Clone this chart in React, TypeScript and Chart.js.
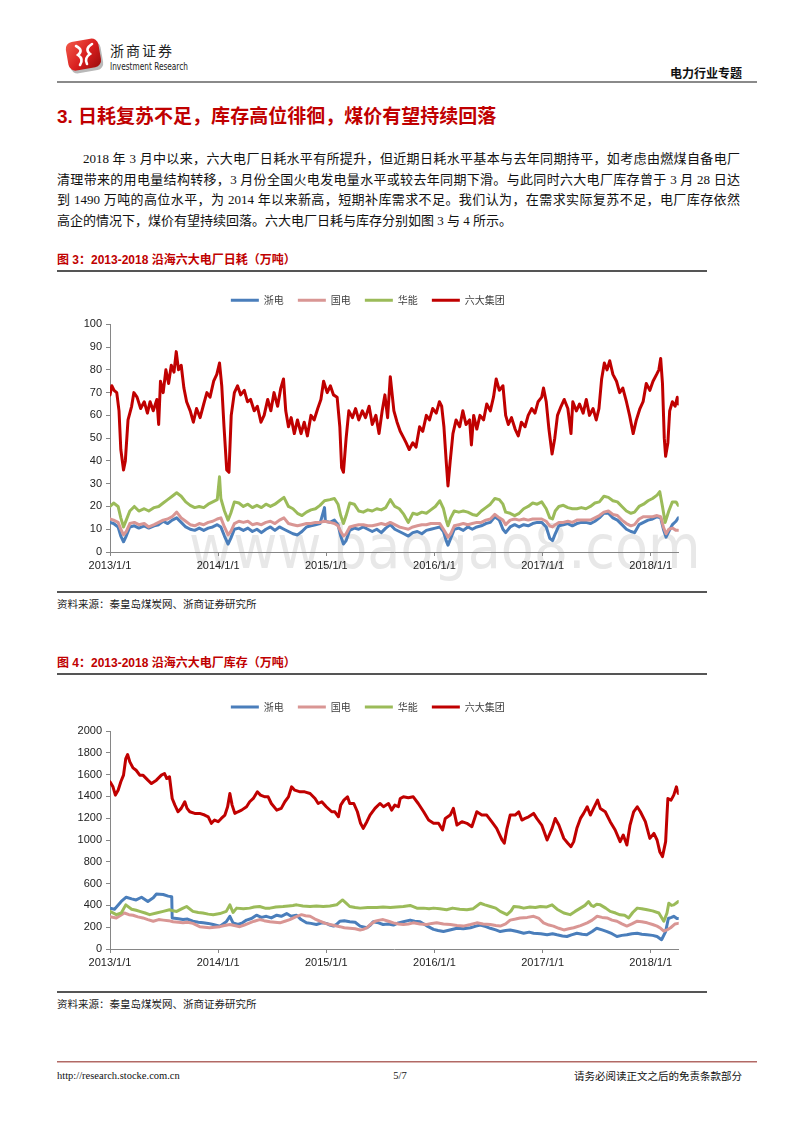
import React, { useEffect, useRef } from 'react';
import { Chart, registerables } from 'chart.js';

Chart.register(...registerables);

// ---------- shared categories ----------
const seriesNames = ['浙电', '国电', '华能', '六大集团'];
const seriesColors = ['#4A7EBB', '#D99694', '#9BBB59', '#C00000'];
// x values are months elapsed since 2013/1/1
const xTickMonths = [0, 12, 24, 36, 48, 60];
const xTickLabels = ['2013/1/1', '2014/1/1', '2015/1/1', '2016/1/1', '2017/1/1', '2018/1/1'];
const xMaxMonth = 63.1;

// ---------- Figure 3: daily consumption (万吨) ----------
const dailyZheDian: [number, number][] = [
  [0, 13], [0.4, 12.5], [0.9, 11], [1.2, 7], [1.5, 4.5], [1.8, 7], [2.2, 11], [2.7, 11.5], [3.2, 10.5], [3.8, 11.5],
  [4.3, 10.5], [4.9, 11.5], [5.4, 12], [5.9, 13.5], [6.4, 12.5], [6.9, 14], [7.4, 15], [7.9, 13], [8.4, 11], [8.9, 10],
  [9.4, 9.5], [9.9, 10.5], [10.4, 9.5], [10.9, 10.5], [11.4, 11], [11.9, 12], [12.3, 11], [12.7, 7], [13.1, 3.5], [13.4, 6],
  [13.8, 10], [14.3, 10.5], [14.8, 9.5], [15.3, 10.5], [15.8, 9], [16.3, 10], [16.8, 8.5], [17.3, 10], [17.8, 11], [18.3, 9.5],
  [18.8, 11], [19.3, 10], [19.8, 9], [20.3, 8], [20.8, 7.5], [21.3, 9], [21.8, 11], [22.3, 11.5], [22.8, 12], [23.3, 12.5],
  [23.8, 19.5], [23.9, 13.5], [24.4, 13], [24.9, 14], [25.3, 12], [25.6, 7], [25.9, 3.5], [26.2, 5], [26.6, 9.5], [27.1, 10.5],
  [27.6, 10], [28.1, 11], [28.6, 10], [29.1, 9], [29.6, 10], [30.1, 8.5], [30.6, 10.5], [31.1, 12], [31.6, 10], [32.1, 9],
  [32.6, 8], [33.1, 7], [33.6, 8.5], [34.1, 9], [34.6, 8], [35.1, 9.5], [35.6, 10], [36.1, 10.5], [36.6, 11], [37.0, 9],
  [37.3, 5], [37.5, 3], [37.8, 6], [38.2, 10], [38.7, 10.5], [39.2, 9.5], [39.7, 11], [40.2, 10], [40.7, 11], [41.2, 11.5],
  [41.7, 12.5], [42.2, 13], [42.7, 15.5], [43.2, 14], [43.6, 10], [43.9, 8.5], [44.4, 11], [44.9, 12], [45.4, 11], [45.9, 12],
  [46.4, 11.5], [46.9, 12.5], [47.4, 13], [47.9, 13], [48.4, 11], [48.8, 6], [49.1, 5], [49.4, 8], [49.8, 11.5], [50.3, 12],
  [50.8, 12.5], [51.3, 11.5], [51.8, 12.5], [52.3, 13], [52.8, 13], [53.3, 12.5], [53.8, 13.5], [54.3, 15], [54.8, 17], [55.3, 17],
  [55.8, 15], [56.3, 14], [56.8, 12], [57.3, 10], [57.8, 9], [58.2, 8.5], [58.7, 12], [59.2, 13], [59.7, 14], [60.2, 14.5],
  [60.7, 15.5], [61.1, 15], [61.4, 10], [61.7, 6.5], [62.0, 9], [62.4, 12], [62.8, 13.5], [63.05, 15],
];
const dailyGuoDian: [number, number][] = [
  [0, 14.5], [0.4, 14], [0.9, 13], [1.2, 10], [1.5, 7.5], [1.8, 9], [2.2, 12.5], [2.7, 13], [3.2, 12], [3.8, 12.5],
  [4.3, 11], [4.9, 12], [5.4, 13], [5.9, 14], [6.4, 14.5], [6.9, 15.5], [7.4, 17.5], [7.9, 15], [8.4, 13.5], [8.9, 12],
  [9.4, 11.5], [9.9, 12.5], [10.4, 12], [10.9, 13], [11.4, 13.5], [11.9, 14.5], [12.3, 15], [12.7, 11], [13.1, 7.5], [13.4, 9],
  [13.8, 12.5], [14.3, 13.5], [14.8, 13], [15.3, 13.5], [15.8, 12], [16.3, 12.5], [16.8, 12], [17.3, 13], [17.8, 13.5], [18.3, 12.5],
  [18.8, 14], [19.3, 15], [19.8, 12.5], [20.3, 12], [20.8, 11.5], [21.3, 12], [21.8, 12.5], [22.3, 12.5], [22.8, 13], [23.3, 13],
  [23.8, 13.5], [24.4, 13], [24.9, 12.5], [25.3, 11.5], [25.6, 9], [25.9, 7], [26.2, 8], [26.6, 11], [27.1, 11.5], [27.6, 12],
  [28.1, 12], [28.6, 11.5], [29.1, 11.5], [29.6, 12], [30.1, 12.5], [30.6, 12], [31.1, 13], [31.6, 12], [32.1, 11], [32.6, 10.5],
  [33.1, 10], [33.6, 11], [34.1, 11.5], [34.6, 12], [35.1, 12], [35.6, 12.5], [36.1, 12.5], [36.6, 12.5], [37.0, 10], [37.3, 8],
  [37.5, 6.5], [37.8, 8], [38.2, 11.5], [38.7, 12], [39.2, 12.5], [39.7, 12], [40.2, 12.5], [40.7, 13], [41.2, 13], [41.7, 14],
  [42.2, 14.5], [42.7, 16.5], [43.2, 15], [43.6, 14], [43.9, 12], [44.4, 14], [44.9, 14.5], [45.4, 14], [45.9, 14.5], [46.4, 14],
  [46.9, 14.5], [47.4, 14.5], [47.9, 14.5], [48.4, 13.5], [48.8, 11.5], [49.1, 11], [49.4, 12], [49.8, 13], [50.3, 13], [50.8, 13.5],
  [51.3, 13], [51.8, 14], [52.3, 14], [52.8, 14], [53.3, 14], [53.8, 15], [54.3, 16], [54.8, 17.5], [55.3, 18], [55.8, 16.5],
  [56.3, 16], [56.8, 14], [57.3, 12.5], [57.8, 11.5], [58.2, 12], [58.7, 14.5], [59.2, 15.5], [59.7, 15.5], [60.2, 15.5], [60.7, 16],
  [61.1, 15.5], [61.4, 11], [61.7, 8], [62.0, 10], [62.4, 10.5], [62.8, 9.5], [63.05, 9.5],
];
const dailyHuaNeng: [number, number][] = [
  [0, 20], [0.4, 21.5], [0.9, 20], [1.2, 15], [1.5, 11], [1.8, 14], [2.2, 18], [2.7, 20], [3.2, 18], [3.8, 19],
  [4.3, 18], [4.9, 19.5], [5.4, 20], [5.9, 21.5], [6.4, 23], [6.9, 24.5], [7.4, 26], [7.9, 24.5], [8.4, 22], [8.9, 20.5],
  [9.4, 19.5], [9.9, 20], [10.4, 19.5], [10.9, 21], [11.4, 22], [11.9, 23], [12.15, 33], [12.3, 23.5], [12.7, 18], [13.1, 14],
  [13.4, 17], [13.8, 22], [14.3, 21.5], [14.8, 20], [15.3, 21], [15.8, 19.5], [16.3, 20.5], [16.8, 19.5], [17.3, 21], [17.8, 20],
  [18.3, 21], [18.8, 22.5], [19.3, 24], [19.8, 20], [20.3, 19], [20.8, 17], [21.3, 16], [21.8, 17.5], [22.3, 18.5], [22.8, 19],
  [23.3, 20.5], [23.8, 22.5], [24.4, 23], [24.9, 23.5], [25.3, 21], [25.6, 16], [25.9, 12.5], [26.2, 16], [26.6, 21.5], [27.1, 21],
  [27.6, 18], [28.1, 17.5], [28.6, 18.5], [29.1, 18], [29.6, 19], [30.1, 18.5], [30.6, 19.5], [31.1, 23], [31.6, 20], [32.1, 19],
  [32.6, 16.5], [33.1, 13], [33.6, 17], [34.1, 16.5], [34.6, 17.5], [35.1, 17], [35.6, 18.5], [36.1, 20], [36.6, 22.5], [37.0, 19],
  [37.3, 14], [37.5, 11.5], [37.8, 15], [38.2, 18], [38.7, 17.5], [39.2, 18], [39.7, 17.5], [40.2, 16.5], [40.7, 16], [41.2, 18],
  [41.7, 19.5], [42.2, 21], [42.7, 23.5], [43.2, 23], [43.6, 21], [43.9, 17.5], [44.4, 17], [44.9, 16], [45.4, 17], [45.9, 19],
  [46.4, 20], [46.9, 21.5], [47.4, 21], [47.9, 22], [48.4, 19], [48.8, 15], [49.1, 14.5], [49.4, 18], [49.8, 20], [50.3, 20.5],
  [50.8, 19.5], [51.3, 19], [51.8, 19], [52.3, 19.5], [52.8, 19], [53.3, 20], [53.8, 21.5], [54.3, 22], [54.8, 24.5], [55.3, 24],
  [55.8, 22.5], [56.3, 22], [56.8, 20], [57.3, 18], [57.8, 17], [58.2, 17.5], [58.7, 20], [59.2, 21], [59.7, 22.5], [60.2, 23.5],
  [60.7, 25], [61.0, 26.5], [61.3, 20], [61.6, 13], [62.0, 18], [62.4, 22], [62.8, 22], [63.05, 20.5],
];
const dailySixGroup: [number, number][] = [
  [0, 69], [0.2, 73], [0.45, 71], [0.75, 70], [1.0, 62], [1.2, 45], [1.5, 36], [1.7, 40], [2.0, 58], [2.4, 64],
  [2.65, 70], [3.0, 68], [3.4, 63], [3.8, 66], [4.15, 61], [4.45, 66], [4.8, 62], [5.2, 67], [5.4, 56], [5.6, 75],
  [5.9, 70], [6.2, 80], [6.5, 74], [6.8, 82], [7.1, 79], [7.35, 88], [7.6, 80], [7.9, 82], [8.2, 72], [8.5, 66],
  [8.9, 62], [9.25, 57], [9.6, 63], [10.0, 59], [10.4, 65], [10.75, 70], [11.1, 68], [11.5, 75], [11.85, 78], [12.15, 83],
  [12.4, 73], [12.65, 55], [12.95, 36], [13.2, 35], [13.45, 60], [13.8, 70], [14.15, 73], [14.5, 69], [14.9, 71], [15.25, 66],
  [15.6, 67], [16.0, 62], [16.35, 64], [16.75, 57], [17.1, 60], [17.5, 67], [17.85, 62], [18.2, 70], [18.6, 64], [18.95, 72],
  [19.25, 76], [19.5, 62], [19.8, 55], [20.1, 59], [20.45, 52], [20.8, 58], [21.2, 52], [21.55, 57], [21.9, 51], [22.3, 60],
  [22.65, 58], [23.05, 63], [23.4, 67], [23.7, 75], [24.1, 70], [24.45, 73], [24.8, 69], [25.2, 68], [25.5, 55], [25.7, 37],
  [25.9, 35], [26.2, 50], [26.5, 62], [26.9, 59], [27.25, 63], [27.6, 58], [28.0, 62], [28.35, 59], [28.75, 64], [29.1, 56],
  [29.5, 60], [29.85, 52], [30.2, 62], [30.5, 69], [30.8, 59], [31.1, 77], [31.5, 62], [31.85, 57], [32.2, 53], [32.6, 50],
  [32.85, 48], [33.2, 45], [33.6, 48], [33.95, 46], [34.35, 55], [34.7, 53], [35.1, 60], [35.45, 58], [35.8, 63], [36.2, 61],
  [36.55, 66], [36.8, 64], [37.05, 55], [37.3, 40], [37.5, 29], [37.75, 40], [38.05, 52], [38.4, 58], [38.8, 55], [39.15, 62],
  [39.5, 56], [39.9, 58], [40.1, 47], [40.35, 60], [40.7, 54], [41.05, 60], [41.45, 58], [41.8, 65], [42.2, 62], [42.55, 68],
  [42.85, 76], [43.2, 71], [43.6, 73], [43.9, 60], [44.2, 56], [44.55, 59], [44.95, 54], [45.3, 51], [45.65, 57], [46.05, 55],
  [46.4, 60], [46.8, 63], [47.15, 61], [47.5, 66], [47.9, 68], [48.1, 72], [48.4, 66], [48.7, 54], [49.05, 43], [49.35, 50],
  [49.65, 60], [50.05, 64], [50.4, 67], [50.8, 63], [51.15, 52], [51.35, 66], [51.75, 62], [52.1, 65], [52.5, 61], [52.85, 67],
  [53.2, 60], [53.6, 63], [53.95, 58], [54.25, 63], [54.55, 76], [54.85, 83], [55.15, 80], [55.45, 84], [55.8, 78], [56.2, 75],
  [56.55, 70], [56.9, 72], [57.3, 66], [57.65, 60], [58.05, 52], [58.4, 58], [58.8, 63], [59.15, 66], [59.5, 74], [59.9, 71],
  [60.25, 75], [60.65, 78], [60.9, 80], [61.1, 85], [61.3, 74], [61.5, 50], [61.65, 42], [61.9, 48], [62.1, 62], [62.4, 66],
  [62.7, 64], [62.95, 68], [63.05, 65],
];
const dailyYMax = 100;
const dailyYStep = 10;

// ---------- Figure 4: stockpile (万吨) ----------
const stockZheDian: [number, number][] = [
  [0, 375], [0.5, 365], [1.25, 436], [1.8, 475], [2.4, 460], [2.9, 450], [3.5, 475], [4.2, 436], [4.8, 470], [5.15, 505],
  [5.9, 500], [6.45, 485], [6.85, 480], [6.9, 285], [7.4, 280], [8.1, 270], [8.6, 275], [9.2, 255], [9.8, 245], [10.35, 240],
  [10.9, 235], [11.45, 225], [12.2, 210], [12.9, 250], [13.3, 300], [13.65, 240], [14.2, 225], [14.7, 240], [15.15, 265], [15.7, 280],
  [16.25, 310], [16.8, 290], [17.35, 300], [17.9, 285], [18.5, 310], [19.0, 300], [19.6, 325], [20.1, 300], [20.7, 310], [21.2, 270],
  [21.8, 240], [22.3, 235], [22.9, 225], [23.5, 240], [24.0, 235], [24.4, 220], [24.8, 210], [25.2, 230], [25.5, 255], [26.0, 260],
  [26.6, 250], [27.2, 245], [27.75, 210], [28.5, 195], [28.9, 220], [29.2, 250], [29.8, 240], [30.3, 225], [30.9, 230], [31.45, 220],
  [32.0, 240], [32.55, 250], [33.3, 265], [33.8, 255], [34.4, 250], [35.1, 215], [35.9, 180], [36.4, 170], [37.0, 160], [37.7, 175],
  [38.5, 190], [39.2, 185], [40.0, 195], [40.6, 210], [41.1, 220], [41.7, 205], [42.2, 190], [42.8, 175], [43.3, 160], [43.9, 170],
  [44.4, 175], [45.2, 160], [45.9, 145], [46.5, 155], [47.0, 145], [47.8, 140], [48.5, 130], [49.1, 140], [49.6, 130], [50.2, 120],
  [50.7, 115], [51.2, 130], [51.8, 145], [52.4, 135], [52.9, 130], [53.5, 160], [54.0, 190], [54.6, 175], [55.15, 160], [55.7, 140],
  [56.25, 115], [56.8, 125], [57.35, 130], [57.9, 140], [58.5, 145], [59.0, 135], [59.6, 130], [60.2, 125], [60.7, 115], [61.2, 85],
  [61.65, 160], [61.95, 280], [62.3, 290], [62.55, 300], [62.9, 280], [63.05, 280],
];
const stockGuoDian: [number, number][] = [
  [0, 295], [0.7, 285], [1.6, 330], [2.1, 315], [2.55, 310], [3.1, 295], [3.65, 285], [4.2, 270], [4.8, 255], [5.4, 270],
  [5.9, 265], [6.5, 260], [7.0, 250], [7.6, 245], [8.1, 240], [8.6, 245], [9.2, 235], [9.95, 205], [10.5, 200], [11.05, 195],
  [11.6, 200], [12.2, 205], [12.7, 215], [13.3, 225], [13.8, 215], [14.4, 205], [14.9, 220], [15.5, 240], [16.0, 255], [16.6, 270],
  [17.1, 260], [17.75, 250], [18.3, 245], [18.85, 240], [19.4, 255], [19.95, 270], [20.6, 295], [21.25, 315], [21.7, 305], [22.2, 300],
  [22.75, 275], [23.3, 255], [23.9, 235], [24.4, 225], [24.9, 215], [25.5, 205], [26.0, 195], [26.6, 190], [27.2, 185], [27.75, 175],
  [28.1, 180], [28.5, 195], [28.9, 225], [29.4, 255], [29.9, 265], [30.3, 270], [30.9, 255], [31.45, 240], [32.0, 230], [32.55, 225],
  [33.1, 230], [33.65, 240], [34.4, 230], [35.15, 225], [35.7, 235], [36.25, 240], [37.0, 230], [37.75, 225], [38.5, 215], [39.2, 210],
  [40.0, 225], [40.7, 240], [41.4, 230], [42.2, 225], [42.8, 215], [43.3, 210], [43.9, 230], [44.4, 265], [45.0, 275], [45.5, 285],
  [46.3, 290], [47.0, 300], [47.6, 280], [48.1, 240], [48.7, 220], [49.2, 210], [49.8, 190], [50.35, 175], [50.9, 185], [51.45, 195],
  [52.2, 215], [52.95, 240], [53.5, 265], [54.05, 300], [54.6, 290], [55.15, 285], [55.7, 265], [56.25, 255], [56.8, 230], [57.35, 210],
  [57.9, 230], [58.5, 255], [59.0, 250], [59.6, 240], [60.2, 225], [60.7, 210], [61.1, 190], [61.45, 165], [61.8, 175], [62.2, 195],
  [62.7, 230], [63.05, 235],
];
const stockHuaNeng: [number, number][] = [
  [0, 345], [0.7, 315], [1.25, 330], [1.75, 405], [2.4, 365], [2.9, 355], [3.3, 345], [3.9, 330], [4.4, 315], [5.15, 330],
  [5.9, 345], [6.6, 360], [7.0, 350], [7.4, 345], [8.0, 370], [8.5, 390], [9.2, 345], [9.8, 335], [10.3, 330], [10.9, 320],
  [11.45, 315], [12.2, 325], [12.9, 345], [13.3, 405], [13.65, 335], [14.05, 375], [14.8, 370], [15.5, 375], [16.0, 385], [16.6, 390],
  [17.2, 375], [17.75, 375], [18.4, 385], [19.2, 390], [19.8, 395], [20.3, 400], [20.7, 405], [21.4, 395], [22.2, 390], [22.9, 395],
  [23.65, 390], [24.4, 395], [25.15, 405], [25.5, 430], [25.8, 450], [26.2, 420], [26.6, 390], [27.2, 380], [27.75, 375], [28.6, 380],
  [29.6, 380], [30.3, 385], [31.1, 380], [31.8, 385], [32.55, 390], [33.3, 400], [34.05, 375], [34.8, 375], [35.4, 370], [35.9, 375],
  [36.6, 370], [37.35, 360], [38.0, 375], [38.8, 365], [39.6, 360], [40.3, 370], [41.1, 420], [41.6, 405], [42.2, 390], [42.8, 375],
  [43.3, 345], [44.05, 315], [44.5, 350], [44.8, 390], [45.4, 385], [45.9, 375], [46.6, 385], [47.2, 380], [47.75, 390], [48.4, 385],
  [49.05, 405], [49.6, 365], [50.35, 330], [51.05, 315], [51.6, 345], [52.2, 375], [52.7, 400], [53.1, 435], [53.4, 400], [53.65, 390],
  [54.0, 410], [54.4, 405], [55.0, 375], [55.5, 345], [56.1, 330], [56.6, 314], [57.1, 310], [57.55, 285], [58.0, 335], [58.5, 375],
  [59.0, 370], [59.6, 360], [60.2, 350], [60.9, 330], [61.45, 255], [61.8, 330], [62.0, 420], [62.3, 400], [62.55, 405], [62.8, 420],
  [63.05, 435],
];
const stockSixGroup: [number, number][] = [
  [0, 1534], [0.33, 1488], [0.6, 1412], [0.9, 1457], [1.2, 1534], [1.5, 1595], [1.75, 1747], [1.95, 1784], [2.2, 1717], [2.55, 1662],
  [2.9, 1640], [3.3, 1595], [3.65, 1595], [4.2, 1549], [4.6, 1518], [5.15, 1549], [5.7, 1595], [6.05, 1610], [6.3, 1564], [6.6, 1580],
  [6.9, 1381], [7.2, 1320], [7.55, 1259], [7.9, 1290], [8.3, 1351], [8.55, 1290], [8.85, 1259], [9.4, 1244], [9.95, 1244], [10.5, 1229],
  [10.9, 1213], [11.25, 1153], [11.6, 1183], [12.0, 1168], [12.35, 1198], [12.75, 1229], [13.05, 1305], [13.3, 1427], [13.55, 1320], [13.85, 1244],
  [14.2, 1259], [14.6, 1274], [15.15, 1305], [15.5, 1351], [15.9, 1381], [16.35, 1442], [16.7, 1412], [17.2, 1396], [17.55, 1396], [17.9, 1335],
  [18.5, 1274], [19.0, 1290], [19.4, 1351], [19.8, 1396], [20.15, 1488], [20.5, 1457], [21.1, 1442], [21.6, 1442], [22.2, 1427], [22.75, 1381],
  [23.1, 1335], [23.5, 1351], [24.0, 1305], [24.6, 1259], [24.95, 1259], [25.35, 1213], [25.6, 1320], [25.95, 1366], [26.35, 1396], [26.6, 1335],
  [27.05, 1335], [27.45, 1259], [27.8, 1153], [28.1, 1107], [28.5, 1168], [28.85, 1229], [29.4, 1290], [29.95, 1335], [30.35, 1305], [30.9, 1335],
  [31.25, 1274], [31.6, 1320], [32.0, 1305], [32.2, 1381], [32.55, 1396], [33.1, 1387], [33.65, 1396], [34.2, 1335], [34.8, 1259], [35.35, 1183],
  [35.9, 1153], [36.45, 1153], [36.9, 1092], [37.2, 1198], [37.75, 1229], [38.1, 1290], [38.5, 1137], [39.05, 1168], [39.6, 1153], [40.15, 1122],
  [40.7, 1259], [41.25, 1229], [41.8, 1229], [42.35, 1168], [42.9, 1107], [43.5, 1000], [43.75, 970], [44.05, 1107], [44.4, 1229], [44.95, 1229],
  [45.35, 1259], [45.7, 1183], [46.05, 1198], [46.45, 1213], [47.0, 1244], [47.35, 1198], [47.9, 1137], [48.5, 1000], [49.05, 1107], [49.4, 1198],
  [49.8, 1137], [50.35, 1015], [50.8, 970], [51.15, 939], [51.45, 985], [51.8, 1107], [52.2, 1198], [52.55, 1244], [52.95, 1305], [53.3, 1229],
  [53.65, 1290], [54.1, 1366], [54.4, 1290], [54.95, 1259], [55.5, 1168], [56.05, 1092], [56.6, 985], [56.95, 1046], [57.35, 954], [57.7, 1137],
  [58.1, 1259], [58.5, 1305], [58.85, 1259], [59.4, 1168], [59.9, 1015], [60.35, 1061], [60.7, 1000], [61.0, 893], [61.3, 848], [61.65, 985],
  [61.8, 1229], [61.9, 1381], [62.25, 1366], [62.55, 1412], [62.85, 1488], [63.05, 1427],
];
const stockYMax = 2000;
const stockYStep = 200;

// ---------- page texts ----------
const reportTitle = '3. 日耗复苏不足，库存高位徘徊，煤价有望持续回落';
const paragraphLines = [
  '2018 年 3 月中以来，六大电厂日耗水平有所提升，但近期日耗水平基本与去年同期持平，如考虑由燃煤自备电厂',
  '清理带来的用电量结构转移，3 月份全国火电发电量水平或较去年同期下滑。与此同时六大电厂库存曾于 3 月 28 日达',
  '到 1490 万吨的高位水平，为 2014 年以来新高，短期补库需求不足。我们认为，在需求实际复苏不足，电厂库存依然',
  '高企的情况下，煤价有望持续回落。六大电厂日耗与库存分别如图 3 与 4 所示。',
];
const fig3Title = '图 3：2013-2018 沿海六大电厂日耗（万吨）';
const fig4Title = '图 4：2013-2018 沿海六大电厂库存（万吨）';
const sourceText = '资料来源：秦皇岛煤炭网、浙商证券研究所';

const SANS = "'Liberation Sans', Arial, 'Noto Sans CJK SC', sans-serif";
const SERIF = "'Liberation Serif', 'Times New Roman', 'Noto Sans CJK SC', serif";
const CJK = "'Noto Sans CJK SC', 'Liberation Sans', sans-serif";

const legendSpacer = {
  id: 'legendSpacer',
  beforeInit(chart: any) {
    const legend = chart.legend;
    if (!legend) return;
    const origFit = legend.fit;
    legend.fit = function fit() {
      origFit.bind(legend)();
      this.height += 9;
    };
  },
};

function LineChart(props: {
  series: [number, number][][];
  yMax: number;
  yStep: number;
  left: number;
  top: number;
  width: number;
  height: number;
  padTop: number;
}) {
  const { series, yMax, yStep, left, top, width, height, padTop } = props;
  const ref = useRef<HTMLCanvasElement>(null);
  useEffect(() => {
    if (!ref.current) return;
    const chart = new Chart(ref.current, {
      type: 'line',
      data: {
        datasets: series.map((s, i) => ({
          label: seriesNames[i],
          data: s.map(([x, y]) => ({ x, y })),
          borderColor: seriesColors[i],
          backgroundColor: seriesColors[i],
          borderWidth: 3,
          pointRadius: 0,
          pointHoverRadius: 0,
          tension: 0,
          fill: false,
          borderJoinStyle: 'round',
          borderCapStyle: 'round',
          order: series.length - i,
        })),
      },
      options: {
        animation: false,
        responsive: false,
        maintainAspectRatio: false,
        events: [],
        layout: { padding: { top: padTop, right: 28.3, bottom: 0, left: 0 } },
        plugins: {
          legend: {
            display: true,
            position: 'top',
            align: 'center',
            labels: {
              usePointStyle: true,
              pointStyle: 'line',
              pointStyleWidth: 28,
              padding: 14,
              color: '#404040',
              font: { family: CJK, size: 10 },
              sort: (a: any, b: any) => a.datasetIndex - b.datasetIndex,
            },
          },
          tooltip: { enabled: false },
        },
        scales: {
          x: {
            type: 'linear',
            min: 0,
            max: xMaxMonth,
            afterBuildTicks: (scale: any) => {
              scale.ticks = xTickMonths.map((v) => ({ value: v }));
            },
            afterFit: (scale: any) => {
              scale.height = 28;
            },
            ticks: {
              autoSkip: false,
              maxRotation: 0,
              minRotation: 0,
              padding: 3,
              color: '#222',
              font: { family: SANS, size: 11 },
              callback: (_v: any, i: number) => xTickLabels[i],
            },
            grid: { drawOnChartArea: false, drawTicks: true, tickLength: 4, color: '#868686' },
            border: { display: true, color: '#868686', width: 1 },
          },
          y: {
            min: 0,
            max: yMax,
            afterFit: (scale: any) => {
              scale.width = 53;
            },
            ticks: {
              stepSize: yStep,
              padding: 4,
              color: '#222',
              font: { family: SANS, size: 11 },
              callback: (v: any) => String(v),
            },
            grid: { drawOnChartArea: false, drawTicks: true, tickLength: 4, color: '#868686' },
            border: { display: true, color: '#868686', width: 1 },
          },
        },
      } as any,
      plugins: [legendSpacer],
    });
    return () => chart.destroy();
  }, []);
  return (
    <canvas
      ref={ref}
      width={width}
      height={height}
      style={{ position: 'absolute', left, top, width, height }}
    />
  );
}

function Rule(props: { top: number; left: number; width: number; height?: number; color?: string }) {
  return (
    <div
      style={{
        position: 'absolute',
        top: props.top,
        left: props.left,
        width: props.width,
        height: props.height ?? 1,
        background: props.color ?? '#555',
      }}
    />
  );
}

export default function App() {
  const abs = (extra: React.CSSProperties): React.CSSProperties => ({ position: 'absolute', whiteSpace: 'nowrap', ...extra });
  return (
    <div style={{ position: 'relative', width: 800, height: 1132, background: '#fff', overflow: 'hidden' }}>
      <style>{'body{margin:0;background:#fff;}'}</style>

      {/* header logo */}
      <svg width={42} height={38} style={{ position: 'absolute', left: 64, top: 37 }} viewBox="0 0 42 38">
        <defs>
          <linearGradient id="logoGrad" x1="0" y1="0" x2="1" y2="1">
            <stop offset="0" stopColor="#f25a4a" />
            <stop offset="0.55" stopColor="#d81e1e" />
            <stop offset="1" stopColor="#9a0c0c" />
          </linearGradient>
        </defs>
        <rect x="5" y="6" width="33" height="29" rx="7" transform="rotate(-10 21 20)" fill="#b9b9b9" />
        <rect x="3" y="3" width="33" height="29" rx="7" transform="rotate(-10 20 18)" fill="url(#logoGrad)" />
        <path d="M12 9 Q20 13 14 18 Q20 22 16 28" stroke="#fff" strokeWidth="2.6" fill="none" strokeLinecap="round" />
        <path d="M28 7 Q20 12 26 17 Q20 21 23 27" stroke="#fff" strokeWidth="2.6" fill="none" strokeLinecap="round" />
      </svg>
      <div style={abs({ left: 110, top: 42, fontFamily: CJK, fontSize: 14, lineHeight: '17px', letterSpacing: 2, color: '#222' })}>浙商证券</div>
      <div
        style={abs({
          left: 110,
          top: 61,
          fontFamily: "'Liberation Sans Narrow', 'DejaVu Sans Condensed', sans-serif",
          fontStretch: 'condensed',
          fontSize: 10,
          lineHeight: '12px',
          color: '#222',
          transform: 'scaleX(0.82)',
          transformOrigin: 'left center',
        })}
      >
        Investment Research
      </div>
      <div style={abs({ right: 58, top: 65, fontFamily: CJK, fontWeight: 700, fontSize: 12, lineHeight: '16px', color: '#111' })}>电力行业专题</div>
      <Rule top={81} left={57} width={700} height={2} color="#8a8a8a" />

      {/* section title */}
      <div style={abs({ left: 57, top: 106, fontFamily: SANS, fontWeight: 700, fontSize: 19, lineHeight: '22px', color: '#C00000' })}>{reportTitle}</div>

      {/* paragraph */}
      <div style={{ position: 'absolute', left: 57, top: 149, width: 683, fontFamily: SERIF, fontSize: 13, lineHeight: '20.5px', color: '#111' }}>
        {paragraphLines.map((line, i) => (
          <div
            key={i}
            style={{
              textAlign: i < paragraphLines.length - 1 ? 'justify' : 'left',
              textAlignLast: i < paragraphLines.length - 1 ? 'justify' : 'left',
              textIndent: i === 0 ? 26 : 0,
              whiteSpace: 'nowrap',
            }}
          >
            {line}
          </div>
        ))}
      </div>

      {/* figure 3 */}
      <div style={abs({ left: 57, top: 252, fontFamily: SANS, fontWeight: 700, fontSize: 12, lineHeight: '16px', color: '#C00000' })}>{fig3Title}</div>
      <Rule top={270} left={57} width={650} height={1.5} color="#555" />
      <div
        style={abs({
          left: 189,
          top: 517,
          fontFamily: "'Liberation Sans Narrow', 'DejaVu Sans Condensed', sans-serif",
          fontStretch: 'condensed',
          fontSize: 60,
          lineHeight: '60px',
          color: '#e8e8e8',
        })}
      >
        www.baogao8.com
      </div>
      <LineChart
        series={[dailyZheDian, dailyGuoDian, dailyHuaNeng, dailySixGroup]}
        yMax={dailyYMax}
        yStep={dailyYStep}
        left={57}
        top={280}
        width={650}
        height={300}
        padTop={1.3}
      />
      <Rule top={591} left={57} width={650} height={1.5} color="#555" />
      <div style={abs({ left: 57, top: 597, fontFamily: CJK, fontSize: 10.5, lineHeight: '14px', color: '#222' })}>{sourceText}</div>

      {/* figure 4 */}
      <div style={abs({ left: 57, top: 655, fontFamily: SANS, fontWeight: 700, fontSize: 12, lineHeight: '16px', color: '#C00000' })}>{fig4Title}</div>
      <Rule top={673} left={57} width={650} height={1.5} color="#555" />
      <LineChart
        series={[stockZheDian, stockGuoDian, stockHuaNeng, stockSixGroup]}
        yMax={stockYMax}
        yStep={stockYStep}
        left={57}
        top={687}
        width={650}
        height={290}
        padTop={1}
      />
      <Rule top={991} left={57} width={650} height={1.5} color="#555" />
      <div style={abs({ left: 57, top: 997, fontFamily: CJK, fontSize: 10.5, lineHeight: '14px', color: '#222' })}>{sourceText}</div>

      {/* footer */}
      <Rule top={1061} left={57} width={700} height={1} color="#b06a66" />
      <Rule top={1062} left={57} width={700} height={1} color="#dcb3b0" />
      <div style={abs({ left: 57, top: 1069, fontFamily: SERIF, fontSize: 10.5, lineHeight: '14px', color: '#111' })}>http://research.stocke.com.cn</div>
      <div style={abs({ left: 380, top: 1069, width: 40, textAlign: 'center', fontFamily: SERIF, fontSize: 10.5, lineHeight: '14px', color: '#111' })}>5/7</div>
      <div style={abs({ right: 58, top: 1069, fontFamily: CJK, fontSize: 10.5, lineHeight: '14px', color: '#111' })}>请务必阅读正文之后的免责条款部分</div>
    </div>
  );
}
